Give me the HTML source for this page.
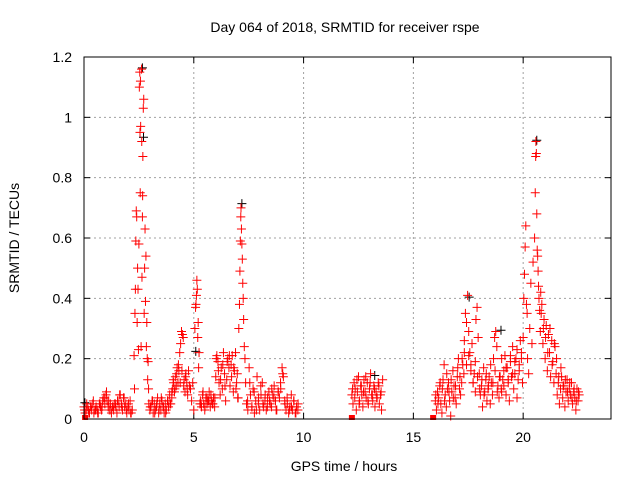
<!DOCTYPE html>
<html><head><meta charset="utf-8"><style>
html,body{margin:0;padding:0;background:#fff;}
svg text{font-family:"Liberation Sans","DejaVu Sans",sans-serif;fill:#000;}
</style></head><body>
<svg id="chart" width="640" height="480" viewBox="0 0 640 480" xmlns="http://www.w3.org/2000/svg">
<rect width="640" height="480" fill="#fff"/>
<text x="345" y="32" font-size="14" text-anchor="middle">Day 064 of 2018, SRMTID for receiver rspe</text>
<text x="344" y="471" font-size="14" text-anchor="middle">GPS time / hours</text>
<text x="0" y="0" font-size="14" text-anchor="middle" transform="translate(19,238) rotate(-90)">SRMTID / TECUs</text>
<g id="grid"></g>
<g id="ticks"></g>
<g id="black"></g>
<g id="red"></g>
<rect x="84" y="57" width="527" height="362" fill="none" stroke="#000" stroke-width="1"/>
</svg>
<script>
const xTicks=[0,5,10,15,20];
const yTicks=[0,0.2,0.4,0.6,0.8,1,1.2];
const yTickLabels=["0","0.2","0.4","0.6","0.8","1","1.2"];
const hours=[
0,.05,.1,.15,.2,.25,.3,.35,.4,.45,.5,.55,.6,.65,.7,.75,.8,.85,.9,.95,1,1.05,1.1,1.15,1.2,1.25,1.3,1.35,1.4,1.45,1.5,1.55,1.6,1.65,1.7,1.75,1.8,1.85,1.9,1.95,2,2.05,2.1,2.15,2.2,
2.28,2.30,2.32,2.34,2.36,2.38,2.40,2.42,2.44,2.46,2.48,2.50,2.52,2.54,2.55,2.56,2.57,2.58,2.60,2.62,2.63,2.64,2.66,2.67,2.68,2.70,2.72,2.74,2.76,2.78,2.80,2.82,2.84,2.86,2.88,2.90,2.92,2.94,
2.95,3,3.05,3.1,3.15,3.2,3.25,3.3,3.35,3.4,3.45,3.5,3.55,3.6,3.65,3.7,3.75,3.8,3.85,3.9,3.95,
4.0,4.04,4.08,4.12,4.16,4.2,4.24,4.28,4.32,4.36,4.4,4.44,4.48,4.52,4.56,4.6,4.64,4.68,4.72,4.76,4.8,
5.0,5.05,5.08,5.10,5.12,5.14,5.16,5.18,5.20,5.22,5.24,4.85,4.9,4.95,5.28,
5.3,5.35,5.4,5.45,5.5,5.55,5.6,5.65,5.7,5.75,5.8,5.85,5.9,5.95,
6.0,6.05,6.1,6.15,6.2,6.25,6.3,6.35,6.4,6.45,6.5,6.55,6.6,6.65,6.7,6.75,6.8,6.85,6.9,6.95,7.0,
7.05,7.08,7.10,7.12,7.14,7.15,7.17,7.19,7.21,7.23,7.25,7.27,7.30,7.33,7.36,7.02,
7.4,7.46,7.52,7.58,7.64,7.7,7.76,7.82,7.88,7.94,8.0,8.06,8.12,8.18,8.24,8.3,8.36,8.42,8.48,8.54,8.6,8.66,8.72,8.78,8.84,8.9,8.96,9.02,9.08,9.14,9.2,9.26,9.32,9.38,9.44,9.5,9.56,9.62,9.68,9.74,
12.2,12.25,12.3,12.35,12.4,12.45,12.5,12.55,12.6,12.65,12.7,12.75,12.8,12.85,12.9,12.95,13,13.05,13.1,13.15,13.2,13.25,13.3,13.35,13.4,13.45,13.5,13.55,13.6,
16.0,16.05,16.1,16.15,16.2,16.25,16.3,16.35,16.4,16.45,16.5,16.55,16.6,16.65,16.7,16.75,16.8,16.85,16.9,16.95,17,17.05,17.1,17.15,17.2,17.25,17.3,
17.32,17.37,17.42,17.47,17.52,17.57,17.62,17.67,17.72,17.77,17.82,
17.85,17.9,17.95,18,18.05,18.1,18.15,18.2,18.25,18.3,18.35,18.4,18.45,18.5,18.55,18.6,18.65,18.7,18.75,18.8,18.85,18.9,18.95,19.0,
19.02,19.07,19.12,19.17,19.22,19.27,19.32,19.37,19.42,19.47,19.52,19.57,19.62,19.67,19.72,19.77,19.82,19.87,19.92,19.97,
20.0,20.03,20.06,20.09,20.12,20.15,20.18,20.2,20.25,20.3,20.35,20.4,20.45,
20.52,20.55,20.57,20.58,20.6,20.62,20.64,20.66,20.68,20.7,20.72,20.75,20.78,
20.8,20.85,20.9,20.95,21,21.05,21.1,21.15,21.2,21.25,21.3,21.35,21.4,21.45,
21.5,21.55,21.6,21.65,21.7,21.75,21.8,21.85,21.9,21.95,22,22.05,22.1,22.15,22.2,22.25,22.3,22.35,22.4,22.45,22.5,22.55
];
const srmtid=[
.04,.02,.03,.04,.03,.02,.04,.03,.05,.02,.03,.04,.03,.02,.05,.04,.03,.06,.07,.05,.08,.06,.04,.03,.05,.02,.04,.03,.05,.04,.02,.06,.04,.08,.05,.03,.07,.04,.05,.02,.04,.03,.06,.02,.03,
.21,.10,.35,.43,.59,.69,.67,.32,.50,.43,.23,.58,1.10,1.15,.95,.75,1.12,.97,.24,1.16,.92,.47,.67,.74,.87,1.03,1.06,.35,.50,.63,.39,.54,.24,.32,.20,.13,.19,.10,
.05,.03,.04,.06,.02,.05,.03,.04,.07,.02,.05,.03,.06,.04,.02,.05,.03,.06,.04,.08,.05,
.07,.10,.12,.09,.14,.11,.17,.12,.16,.22,.25,.29,.28,.27,.13,.09,.15,.12,.08,.16,.11,
.03,.30,.37,.38,.41,.46,.43,.27,.32,.17,.22,.10,.06,.12,.05,
.06,.04,.08,.05,.03,.07,.05,.06,.09,.04,.06,.05,.07,.04,
.14,.21,.19,.12,.08,.17,.10,.22,.15,.06,.13,.20,.17,.11,.18,.21,.09,.16,.22,.12,.07,
.30,.38,.49,.59,.67,.70,.63,.58,.53,.45,.40,.33,.24,.20,.12,.07,
.05,.03,.17,.08,.04,.10,.02,.06,.14,.05,.03,.08,.12,.04,.06,.03,.07,.09,.05,.04,.08,.11,.06,.03,.09,.07,.10,.17,.14,.06,.03,.05,.02,.04,.08,.03,.06,.02,.04,.03,
.08,.05,.12,.10,.03,.09,.14,.06,.11,.08,.04,.13,.09,.07,.12,.05,.10,.15,.08,.06,.11,.04,.09,.07,.12,.05,.08,.03,.13,
.06,.03,.09,.07,.11,.05,.02,.13,.18,.08,.04,.10,.12,.06,.01,.09,.16,.11,.07,.05,.14,.20,.10,.08,.12,.18,.15,
.26,.35,.32,.41,.29,.22,.18,.25,.12,.15,.09,
.33,.37,.27,.15,.08,.11,.04,.17,.09,.13,.06,.10,.14,.05,.12,.08,.20,.27,.29,.24,.11,.07,.14,.10,
.09,.13,.16,.21,.08,.17,.12,.06,.19,.14,.24,.10,.15,.20,.07,.13,.18,.26,.22,.12,
.27,.40,.48,.57,.64,.38,.35,.20,.15,.30,.45,.25,.52,
.60,.75,.87,.92,.88,.68,.56,.54,.49,.44,.40,.36,.29,
.42,.38,.25,.33,.20,.31,.16,.28,.22,.14,.26,.19,.12,.24,
.15,.08,.12,.05,.10,.14,.07,.11,.04,.09,.13,.06,.10,.08,.12,.05,.09,.07,.03,.10,.06,.08
];
const hours2=[
.025,.125,.225,.325,.425,.525,.625,.725,.825,.925,1.025,1.125,1.225,1.325,1.425,1.525,1.625,1.725,1.825,1.925,2.025,2.125,
3.02,3.12,3.22,3.32,3.42,3.52,3.62,3.72,3.82,3.92,4.0,
4.06,4.14,4.22,4.3,4.38,4.46,4.54,4.62,4.7,
5.33,5.42,5.51,5.6,5.69,5.78,5.87,5.96,
6.02,6.12,6.22,6.32,6.42,6.52,6.62,6.72,6.82,6.92,6.98,
7.45,7.55,7.65,7.75,7.85,7.95,8.05,8.15,8.25,8.35,8.45,8.55,8.65,8.75,8.85,8.95,9.05,9.15,9.25,9.35,9.45,9.55,9.65,9.75,
12.23,12.33,12.43,12.53,12.63,12.73,12.83,12.93,13.03,13.13,13.23,13.33,13.43,13.53,
16.02,16.12,16.22,16.32,16.42,16.52,16.62,16.72,16.82,16.92,17.02,17.12,17.22,17.32,17.42,17.52,17.62,17.72,17.82,17.92,18.02,18.12,18.22,18.32,18.42,18.52,18.62,18.72,18.82,18.92,19.02,19.12,19.22,19.32,19.42,19.52,19.62,19.72,19.82,19.92,
20.82,20.92,21.02,21.12,21.22,21.32,21.42,21.52,21.62,21.72,21.82,21.92,22.02,22.12,22.22,22.32,22.42,22.52
];
const srmtid2=[
.03,.05,.02,.04,.06,.03,.02,.05,.04,.07,.09,.06,.03,.04,.05,.06,.08,.04,.07,.03,.05,.02,
.04,.06,.02,.05,.03,.07,.04,.02,.06,.05,.09,
.13,.10,.15,.18,.12,.16,.11,.14,.10,
.05,.09,.04,.07,.06,.08,.05,.07,
.20,.16,.13,.18,.11,.19,.21,.14,.17,.10,.15,
.06,.12,.04,.09,.03,.07,.11,.05,.08,.04,.06,.10,.07,.03,.09,.12,.15,.05,.07,.03,.04,.06,.02,.05,
.10,.07,.13,.05,.11,.09,.14,.06,.12,.08,.10,.07,.11,.09,
.08,.05,.12,.10,.06,.15,.09,.13,.07,.11,.17,.14,.20,.22,.18,.21,.16,.12,.19,.14,.10,.13,.08,.15,.11,.18,.12,.16,.09,.14,.20,.11,.17,.13,.21,.15,.19,.23,.16,.20,
.35,.30,.27,.22,.30,.18,.25,.20,.14,.17,.11,.13,.09,.12,.07,.10,.06,.09
];
const zeroHours=[0.05,12.2,15.9];
const blackHours=[0.0,2.62,2.67,5.05,7.15,13.2,18.95,20.58,17.5];
const blackValues=[0.05,1.16,0.93,0.22,0.71,0.14,0.29,0.92,0.40];

const X0=84,X1=611,Y0=419,Y1=57,XMAX=24,YMAX=1.2;
const xs=v=>X0+(v/XMAX)*(X1-X0);
const ys=v=>Y0-(v/YMAX)*(Y0-Y1);
const NS="http://www.w3.org/2000/svg";
function mk(tag,attrs,parent){const e=document.createElementNS(NS,tag);for(const k in attrs)e.setAttribute(k,attrs[k]);parent.appendChild(e);return e;}
const grid=document.getElementById('grid'),ticks=document.getElementById('ticks');
xTicks.forEach(t=>{const x=xs(t);
 if(t>0){const g=mk('line',{x1:x,x2:x,y1:Y1,y2:Y0,stroke:'#a0a0a0','stroke-dasharray':'2,3'},grid);
 
 }
 mk('line',{x1:x,x2:x,y1:Y0,y2:Y0-6,stroke:'#000'},ticks);
 mk('line',{x1:x,x2:x,y1:Y1,y2:Y1+6,stroke:'#000'},ticks);
 const l=mk('text',{x:x,y:Y0+23,'font-size':14,'text-anchor':'middle'},ticks);l.textContent=String(t);
 
 
});
yTicks.forEach((t,i)=>{const y=ys(t);
 if(t>0&&t<YMAX){const g=mk('line',{x1:X0,x2:X1,y1:y,y2:y,stroke:'#a0a0a0','stroke-dasharray':'2,3'},grid);
 
 }
 mk('line',{x1:X0,x2:X0+6,y1:y,y2:y,stroke:'#000'},ticks);
 mk('line',{x1:X1,x2:X1-6,y1:y,y2:y,stroke:'#000'},ticks);
 const l=mk('text',{x:X0-12,y:y+5,'font-size':14,'text-anchor':'end'},ticks);l.textContent=yTickLabels[i];
 
 
});
function cross(g,h,v,col){const x=xs(h),y=ys(v);
 const p=mk('path',{d:`M${x-4.5},${y}H${x+4.5}M${x},${y-4.5}V${y+4.5}`,stroke:col,'stroke-width':1,fill:'none'},g);
 
 }
const bg=document.getElementById('black'),rg=document.getElementById('red');
for(let i=0;i<Math.min(blackHours.length,blackValues.length);i++)cross(bg,blackHours[i]+0.04,blackValues[i]+0.004,'#000');
for(let i=0;i<Math.min(hours.length,srmtid.length);i++)cross(rg,hours[i],srmtid[i],'#ff0000');
for(let i=0;i<Math.min(hours2.length,srmtid2.length);i++)cross(rg,hours2[i],srmtid2[i],'#ff0000');
zeroHours.forEach(h=>{const r=mk('rect',{x:xs(h)-3,y:Y0-4,width:6,height:5,fill:'#ff0000'},rg);
 
 });
</script>
</body></html>
